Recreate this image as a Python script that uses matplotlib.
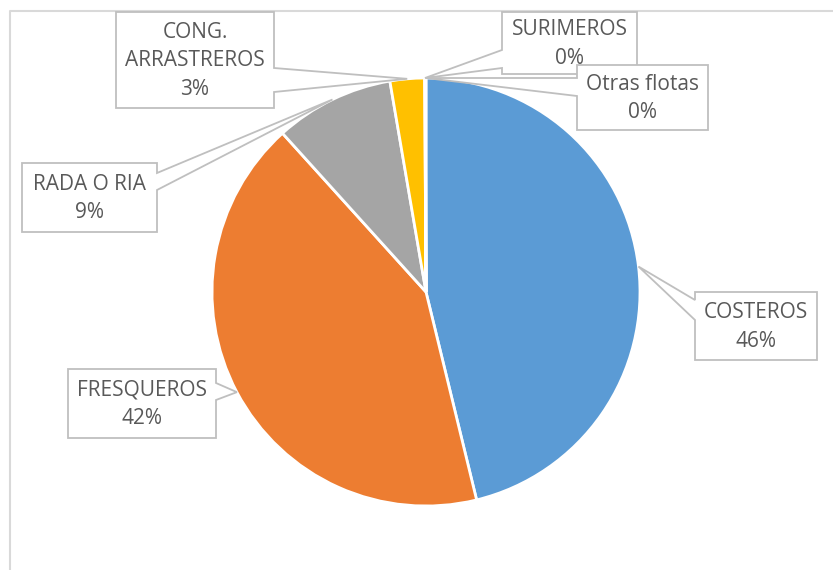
import matplotlib
matplotlib.use('Agg')
import matplotlib.pyplot as plt
from matplotlib.patches import Polygon
import numpy as np

# fleet share (%)
flotas = ['COSTEROS', 'FRESQUEROS', 'RADA O RIA', 'CONG.\nARRASTREROS', 'SURIMEROS', 'Otras flotas']
valores = [46.2, 42.1, 9.0, 2.6, 0.05, 0.05]
colores = ['#5B9BD5', '#ED7D31', '#A5A5A5', '#FFC000', '#4472C4', '#70AD47']

# label boxes in pixel coords: (left, top, right, bottom), side of pointer, pointer base (y1, y2)
cajas = [
    ((695, 292, 817, 360), 'left', (300, 320)),
    ((68, 369, 216, 438), 'right', (383, 400)),
    ((22, 163, 157, 232), 'right', (173, 190)),
    ((116, 12, 274, 108), 'right', (68, 92)),
    ((502, 12, 637, 74), 'left', (50, 68)),
    ((577, 65, 708, 130), 'left', (78, 96)),
]

W, H = 833, 570
centro = (426, 292)
radio = 214

fig = plt.figure(figsize=(W / 100, H / 100), dpi=100)
ax = fig.add_axes([0, 0, 1, 1])

wedges, _ = ax.pie(valores, colors=colores, center=centro, radius=radio,
                   startangle=-90, counterclock=True,
                   wedgeprops=dict(edgecolor='white', linewidth=2))
ax.set_xlim(0, W)
ax.set_ylim(H, 0)
ax.set_aspect('equal')
ax.axis('off')

# chart area border (cropped)
ax.plot([10, 10, W], [H, 11, 11], color='#D9D9D9', lw=1.5, zorder=1)

total = sum(valores)
for w, nombre, v, (caja, lado, base) in zip(wedges, flotas, valores, cajas):
    ang = np.deg2rad((w.theta1 + w.theta2) / 2)
    tip = (centro[0] + radio * np.cos(ang), centro[1] + radio * np.sin(ang))
    L, T, R, B = caja
    b1, b2 = base
    if lado == 'right':
        pts = [(L, T), (R, T), (R, b1), tip, (R, b2), (R, B), (L, B)]
    else:
        pts = [(L, T), (R, T), (R, B), (L, B), (L, b2), tip, (L, b1)]
    ax.add_patch(Polygon(pts, closed=True, facecolor='white', edgecolor='#BFBFBF',
                         lw=1.3, zorder=5))
    ax.text((L + R) / 2, (T + B) / 2 + 1, f"{nombre}\n{round(v / total * 100)}%",
            ha='center', va='center', fontsize=15, color='#595959',
            family='Open Sans', linespacing=1.45, zorder=6)

fig.savefig('out.png', dpi=100)
